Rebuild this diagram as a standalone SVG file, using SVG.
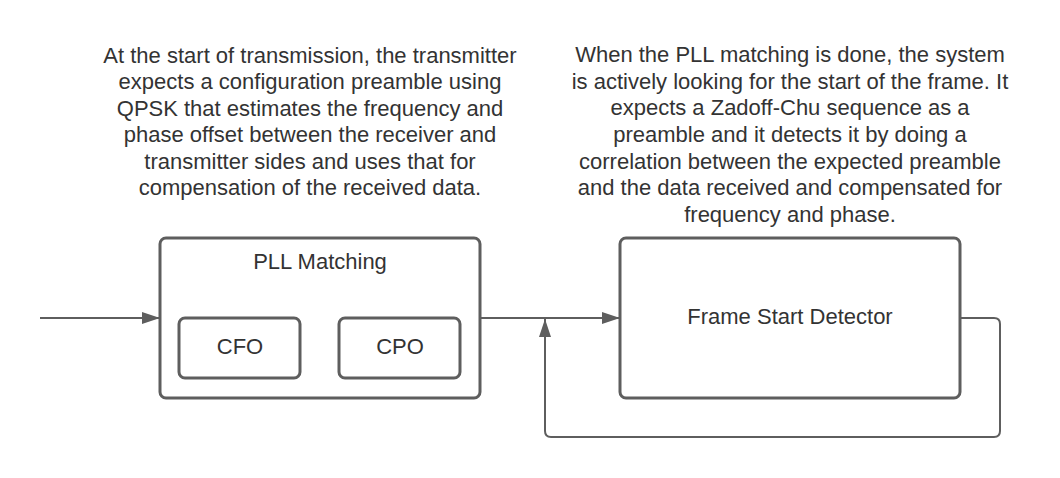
<svg xmlns="http://www.w3.org/2000/svg" width="1060" height="478" viewBox="0 0 1060 478">
<style>
.box{fill:#ffffff;stroke:#5e5e5e;stroke-width:3}
.lbl{font-family:"Liberation Sans",Arial,sans-serif;font-size:22px;fill:#333333;text-anchor:middle}
.conn{fill:none;stroke:#5e5e5e;stroke-width:2}
</style>
<defs>
<marker id="arr" viewBox="0 0 18 12" refX="18" refY="6" markerWidth="18" markerHeight="12" markerUnits="userSpaceOnUse" orient="auto">
<path d="M0,0 L18,6 L0,12 Z" fill="#5e5e5e"/>
</marker>
</defs>
<rect width="1060" height="478" fill="#ffffff"/>
<g id="note-left">
<text class="lbl" x="310" y="63">At the start of transmission, the transmitter</text>
<text class="lbl" x="310" y="89.4">expects a configuration preamble using</text>
<text class="lbl" x="310" y="115.8">QPSK that estimates the frequency and</text>
<text class="lbl" x="310" y="142.2">phase offset between the receiver and</text>
<text class="lbl" x="310" y="168.6">transmitter sides and uses that for</text>
<text class="lbl" x="310" y="195">compensation of the received data.</text>
</g>
<g id="note-right">
<text class="lbl" x="790" y="62">When the PLL matching is done, the system</text>
<text class="lbl" x="790" y="88.7">is actively looking for the start of the frame. It</text>
<text class="lbl" x="790" y="115.3">expects a Zadoff-Chu sequence as a</text>
<text class="lbl" x="790" y="142">preamble and it detects it by doing a</text>
<text class="lbl" x="790" y="168.7">correlation between the expected preamble</text>
<text class="lbl" x="790" y="195.3">and the data received and compensated for</text>
<text class="lbl" x="790" y="222">frequency and phase.</text>
</g>
<g id="connectors">
<path class="conn" d="M40,318 L160,318" marker-end="url(#arr)"/>
<path class="conn" d="M480,318 L620,318" marker-end="url(#arr)"/>
<path class="conn" d="M960,318 L994,318 Q1000,318 1000,324 L1000,431 Q1000,437 994,437 L551,437 Q545,437 545,431 L545,319" marker-end="url(#arr)"/>
</g>
<g id="pll">
<rect class="box" x="160" y="238" width="320" height="160" rx="6"/>
<text class="lbl" x="320" y="269">PLL Matching</text>
</g>
<g id="cfo">
<rect class="box" x="179" y="318" width="121" height="60" rx="6"/>
<text class="lbl" x="240" y="354">CFO</text>
</g>
<g id="cpo">
<rect class="box" x="339" y="318" width="121" height="60" rx="6"/>
<text class="lbl" x="400" y="354">CPO</text>
</g>
<g id="fsd">
<rect class="box" x="620" y="238" width="340" height="160" rx="6"/>
<text class="lbl" x="790" y="324">Frame Start Detector</text>
</g>
</svg>
